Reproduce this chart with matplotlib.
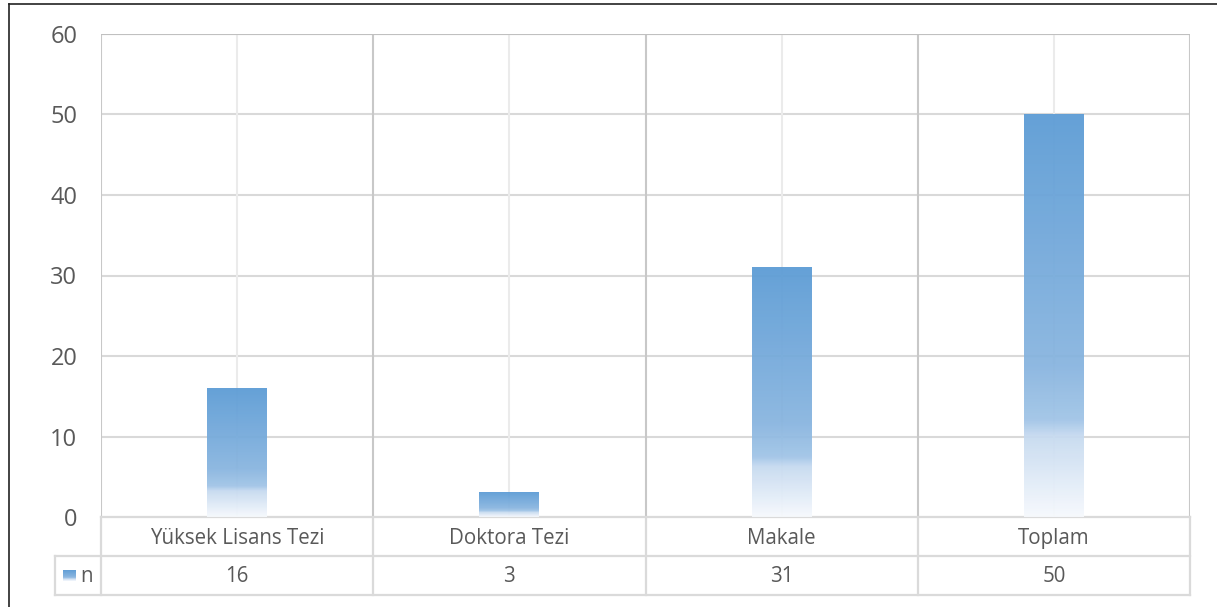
import matplotlib.pyplot as plt
import numpy as np
from matplotlib.colors import LinearSegmentedColormap
from matplotlib.transforms import blended_transform_factory

plt.rcParams['font.family'] = ['Open Sans', 'DejaVu Sans']

# data
categories = ['Yüksek Lisans Tezi', 'Doktora Tezi', 'Makale', 'Toplam']
series_name = 'n'
values = [16, 3, 31, 50]
y_ticks = [0, 10, 20, 30, 40, 50, 60]

W, H = 1217, 607
fig = plt.figure(figsize=(W / 100, H / 100), dpi=100)
ax = fig.add_axes([101 / W, 90 / H, (1190 - 101) / W, (517 - 34) / H])

txt = '#595959'
grid_c = '#d9d9d9'
bar_w = 0.22

# gradient like the office fill
grad = LinearSegmentedColormap.from_list('g', [
    (0.0, (91 / 255, 155 / 255, 213 / 255)),
    (0.62, (135 / 255, 180 / 255, 223 / 255)),
    (0.76, (160 / 255, 196 / 255, 231 / 255)),
    (0.80, (198 / 255, 218 / 255, 240 / 255)),
    (1.0, (246 / 255, 249 / 255, 253 / 255)),
])
col = np.linspace(0, 1, 256).reshape(-1, 1)

x = np.arange(len(categories))
bars = ax.bar(x, values, width=bar_w, color='none', zorder=3)
for b in bars:
    x0 = b.get_x()
    ax.imshow(col, cmap=grad, aspect='auto', zorder=3, alpha=0.94,
              extent=[x0, x0 + b.get_width(), 0, b.get_height()])

ax.set_xlim(-0.5, len(categories) - 0.5)
ax.set_ylim(0, 60)
ax.set_yticks(y_ticks)
ax.set_yticklabels([str(t) for t in y_ticks], fontsize=17, color=txt)
ax.tick_params(axis='y', length=0, pad=17)
ax.set_xticks([])

for t in y_ticks[1:]:
    ax.axhline(t, color=grid_c, lw=1.5, zorder=1)
for xi in x:
    ax.axvline(xi, color='#ebebeb', lw=1.5, zorder=1)
for xb in np.arange(-0.5, len(categories), 1.0):
    ax.axvline(xb, color='#c8c8c8', lw=1.5, zorder=1)
for s in ax.spines.values():
    s.set_visible(False)
ax.axhline(60, color='#c0c0c0', lw=1.5, zorder=2)

# data table under the plot
tr = blended_transform_factory(ax.transData, fig.transFigure)
y0, y1, y2 = 1 - 517 / H, 1 - 556 / H, 1 - 595 / H
tab_c = '#dadada'
xl = -0.5 - (101 - 55) / ((1190 - 101) / len(categories))
ax.plot([-0.5, 3.5], [y0, y0], transform=tr, color=tab_c, lw=1.6, clip_on=False)
ax.plot([xl, 3.5], [y1, y1], transform=tr, color=tab_c, lw=1.6, clip_on=False)
ax.plot([xl, 3.5], [y2, y2], transform=tr, color=tab_c, lw=1.6, clip_on=False)
ax.plot([xl, xl], [y1, y2], transform=tr, color=tab_c, lw=1.6, clip_on=False)
for xb in np.arange(-0.5, len(categories), 1.0):
    ax.plot([xb, xb], [y0, y2], transform=tr, color=tab_c, lw=1.6, clip_on=False)
for xi, c, v in zip(x, categories, values):
    ax.text(xi, (y0 + y1) / 2 - 2 / H, c, transform=tr, ha='center', va='center',
            fontsize=14.8, color=txt)
    ax.text(xi, (y1 + y2) / 2 - 1 / H, str(v), transform=tr, ha='center', va='center',
            fontsize=14.8, color=txt)

# legend key in the table
lx = 63 / W
ly = (y1 + y2) / 2
key = fig.add_axes([lx, ly - 6 / H, 13 / W, 12 / H])
key.imshow(col, cmap=grad, aspect='auto', extent=[0, 1, 0, 1])
key.axis('off')
fig.text(80 / W, ly - 1 / H, series_name, ha='left', va='center', fontsize=14.8, color=txt)

# outer chart frame
fig.add_artist(plt.Line2D([9 / W, 9 / W], [0, 1 - 4 / H], color='#222222', lw=1.2))
fig.add_artist(plt.Line2D([9 / W, 1], [1 - 4 / H, 1 - 4 / H], color='#222222', lw=1.2))

fig.savefig('out.png', dpi=100)
